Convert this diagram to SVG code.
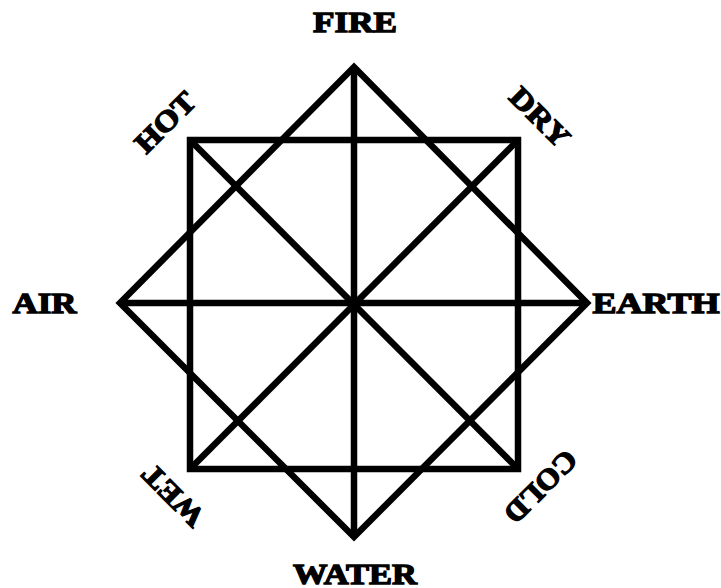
<svg xmlns="http://www.w3.org/2000/svg" width="721" height="588" viewBox="0 0 721 588">
<style>
.ln{fill:none;stroke:#000;stroke-width:6.5;stroke-linejoin:miter;stroke-linecap:butt}
.lb{font-family:"Liberation Serif","Times New Roman",serif;font-weight:bold;font-size:29px;fill:#000;stroke:#000;stroke-width:1.3;text-anchor:middle}
</style>
<rect width="721" height="588" fill="#fff"/>
<g id="connectors">
<rect class="ln" x="190" y="140" width="328" height="329"/>
<polygon class="ln" points="354,67 587,303 354,537 120,303"/>
<line class="ln" x1="354" y1="67" x2="354" y2="537"/>
<line class="ln" x1="120" y1="303" x2="587" y2="303"/>
<line class="ln" x1="190" y1="140" x2="518" y2="469"/>
<line class="ln" x1="518" y1="140" x2="190" y2="469"/>
</g>
<g id="fire"><text class="lb" x="355" y="32" font-size="26" textLength="84" lengthAdjust="spacingAndGlyphs">FIRE</text></g>
<g id="air"><text class="lb" x="44.5" y="313" textLength="64" lengthAdjust="spacingAndGlyphs">AIR</text></g>
<g id="earth"><text class="lb" x="656" y="313" textLength="127" lengthAdjust="spacingAndGlyphs">EARTH</text></g>
<g id="water"><text class="lb" x="355" y="584" font-size="28" textLength="124" lengthAdjust="spacingAndGlyphs">WATER</text></g>
<g id="hot" transform="translate(165,122) rotate(-45)"><text class="lb" x="0" y="10" textLength="73" lengthAdjust="spacingAndGlyphs">HOT</text></g>
<g id="dry" transform="translate(540,117) rotate(45)"><text class="lb" x="0" y="10" textLength="72" lengthAdjust="spacingAndGlyphs">DRY</text></g>
<g id="wet" transform="translate(173,496) rotate(225)"><text class="lb" x="0" y="10" textLength="75" lengthAdjust="spacingAndGlyphs">WET</text></g>
<g id="cold" transform="translate(541,487) rotate(135)"><text class="lb" x="0" y="10" textLength="90" lengthAdjust="spacingAndGlyphs">COLD</text></g>
</svg>
